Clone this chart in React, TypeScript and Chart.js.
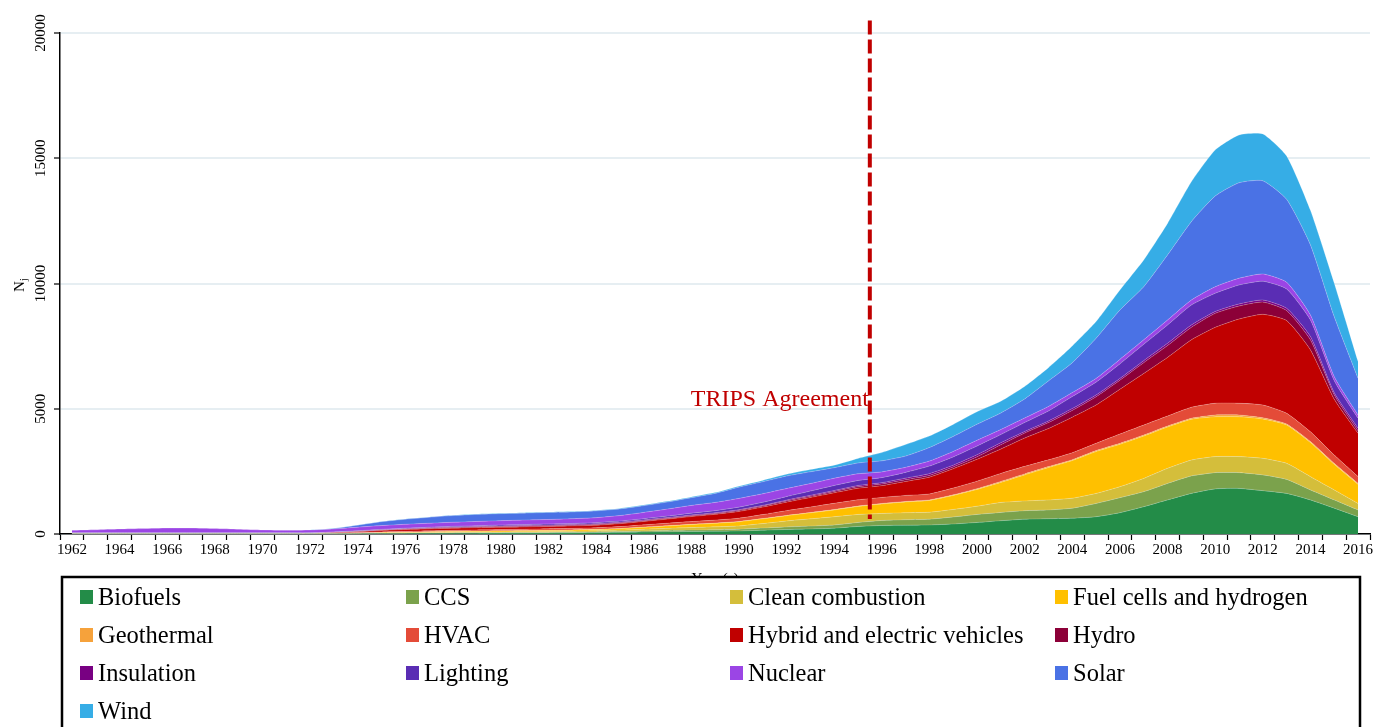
import React, { useEffect, useRef } from "react";
import { Chart, registerables } from "chart.js";

Chart.register(...registerables);

const years = [
  "1962","1963","1964","1965","1966","1967","1968","1969","1970","1971",
  "1972","1973","1974","1975","1976","1977","1978","1979","1980","1981",
  "1982","1983","1984","1985","1986","1987","1988","1989","1990","1991",
  "1992","1993","1994","1995","1996","1997","1998","1999","2000","2001",
  "2002","2003","2004","2005","2006","2007","2008","2009","2010","2011",
  "2012","2013","2014","2015","2016",
];

const yTickValues = [0, 5000, 10000, 15000, 20000];

const biofuels = [
  5,5,5,5,5,5,5,5,5,5,5,
  8,12,18,22,26,30,32,35,38,
  40,45,55,65,80,90,100,110,120,
  150,180,200,230,300,340,350,360,400,460,
  530,590,610,630,690,850,1090,1360,1620,1800,
  1820,1730,1620,1360,1030,690,
];
const ccs = [
  2,2,2,2,2,2,2,2,2,2,2,
  3,5,8,10,12,14,16,18,19,
  20,22,25,30,40,50,55,60,70,
  85,100,115,130,160,200,220,230,280,320,
  330,340,350,400,530,600,600,660,700,650,
  630,630,560,400,330,270,
];
const cleanCombustion = [
  3,3,3,3,3,3,3,3,3,3,3,
  5,8,12,15,18,22,25,28,32,
  40,45,50,60,70,85,100,115,130,
  180,240,290,330,320,280,280,280,300,330,
  400,390,400,400,400,440,530,600,630,640,
  640,660,640,530,400,260,
];
const fuelCells = [
  3,3,3,3,3,3,3,3,3,3,3,
  6,10,16,22,26,30,32,35,38,
  40,42,45,55,75,95,120,140,170,
  190,210,240,270,320,380,430,470,560,670,
  800,1040,1290,1500,1670,1690,1690,1650,1630,1590,
  1590,1570,1530,1360,1020,760,
];
const geothermal = [
  2,2,2,2,2,2,2,2,2,2,2,
  3,4,5,6,8,10,10,10,10,
  10,10,10,10,10,10,10,10,10,
  10,12,12,15,15,20,20,20,25,30,
  40,40,40,35,40,40,40,40,40,70,
  70,50,40,40,40,40,
];
const hvac = [
  5,5,5,5,5,5,5,5,5,5,5,
  10,16,24,30,36,42,48,52,55,
  60,62,65,75,90,100,110,120,130,
  160,190,220,250,250,240,240,240,270,300,
  320,300,270,280,290,370,400,400,440,470,
  470,510,430,390,330,270,
];
const hybridEV = [
  8,8,8,8,8,8,8,8,8,8,8,
  18,35,55,70,80,85,90,90,90,
  90,95,100,115,135,165,200,230,270,
  300,340,380,420,460,470,560,670,770,870,
  970,1130,1250,1420,1530,1790,2060,2340,2690,3030,
  3360,3620,3700,3270,2230,1730,
];
const hydro = [
  6,6,6,6,6,6,6,6,6,6,6,
  10,12,15,18,20,22,25,28,30,
  30,30,30,30,30,30,35,35,40,
  40,45,45,50,60,70,70,70,70,100,
  170,200,240,270,330,360,430,470,500,560,
  520,490,400,400,170,100,
];
const insulation = [
  6,6,6,6,6,6,6,6,6,6,6,
  10,12,15,18,20,22,24,26,28,
  30,30,30,30,30,30,30,30,30,
  30,35,40,40,50,50,60,70,70,80,
  80,60,60,70,70,70,80,90,90,70,
  80,80,90,130,90,100,
];
const lighting = [
  6,6,6,6,6,6,6,6,6,6,6,
  10,14,18,22,25,28,30,35,38,
  40,40,42,45,50,60,70,80,100,
  120,140,170,200,200,200,230,300,330,350,
  330,360,400,480,510,580,650,730,800,730,
  760,750,770,660,480,400,
];
const nuclear = [
  100,120,150,170,190,190,170,140,110,100,110,
  120,145,150,155,160,165,170,175,180,
  180,190,200,220,250,280,310,330,350,
  340,320,300,290,270,230,200,200,220,230,
  200,180,180,160,150,180,180,200,200,260,
  270,290,270,200,160,130,
];
const solar = [
  3,3,3,3,3,3,3,3,3,3,3,
  20,80,155,200,235,265,280,280,275,
  280,270,270,265,270,280,310,360,450,
  480,500,470,420,430,440,450,540,600,640,
  660,760,1020,1190,1600,1970,2120,2600,3130,3620,
  3810,3720,3310,2800,2390,1460,
];
const wind = [
  1,1,1,1,1,1,1,1,1,1,1,
  3,6,10,12,14,16,18,20,20,
  20,20,20,20,25,30,30,35,40,
  55,70,90,100,180,330,460,460,480,500,
  470,500,530,670,670,800,1070,1260,1590,1840,
  1910,1870,1730,1380,1340,670,
];

const seriesNames = [
  "Biofuels", "CCS", "Clean combustion", "Fuel cells and hydrogen",
  "Geothermal", "HVAC", "Hybrid and electric vehicles", "Hydro",
  "Insulation", "Lighting", "Nuclear", "Solar", "Wind",
];
const seriesValues = [
  biofuels, ccs, cleanCombustion, fuelCells, geothermal, hvac, hybridEV,
  hydro, insulation, lighting, nuclear, solar, wind,
];
const seriesColors = [
  "#238C48", "#7BA24C", "#D4BE3B", "#FFC000", "#F6A23B", "#E44B38", "#C00000",
  "#8C0038", "#780082", "#5A2DB4", "#9B45E5", "#4A72E5", "#36ADE6",
];

const eventYearIndex = 33; // boundary between 1995 and 1996
const eventLabel = "TRIPS Agreement";
const xTitle = "Year (s)";

const SERIF = '"Liberation Serif", "Times New Roman", serif';

const overlayPlugin = {
  id: "overlay",
  afterDraw(chart: any) {
    const ctx = chart.ctx as CanvasRenderingContext2D;
    const xs = chart.scales.x;
    const ys = chart.scales.y;
    const area = chart.chartArea;

    // y tick labels (rotated)
    ctx.save();
    ctx.fillStyle = "#000";
    ctx.font = `15px ${SERIF}`;
    for (const v of yTickValues) {
      const py = ys.getPixelForValue(v);
      ctx.save();
      ctx.translate(41, py);
      ctx.rotate(-Math.PI / 2);
      ctx.textAlign = "center";
      ctx.textBaseline = "middle";
      ctx.fillText(String(v), 0, 0);
      ctx.restore();
    }
    ctx.restore();

    // x tick labels (every second year)
    ctx.save();
    ctx.fillStyle = "#000";
    ctx.font = `15px ${SERIF}`;
    ctx.textAlign = "center";
    ctx.textBaseline = "alphabetic";
    years.forEach((yr, i) => {
      if (i % 2 !== 0) return;
      ctx.fillText(yr, xs.getPixelForValue(i), area.bottom + 20);
    });
    ctx.restore();

    // y title N_j
    ctx.save();
    ctx.fillStyle = "#000";
    ctx.translate(24, 285);
    ctx.rotate(-Math.PI / 2);
    ctx.textBaseline = "alphabetic";
    ctx.textAlign = "left";
    ctx.font = `15px ${SERIF}`;
    ctx.fillText("N", -7, 0);
    ctx.font = `10px ${SERIF}`;
    ctx.fillText("j", 4, 3);
    ctx.restore();

    // x title (partly hidden behind legend box)
    ctx.save();
    ctx.fillStyle = "#000";
    ctx.font = `15px ${SERIF}`;
    ctx.textAlign = "center";
    ctx.textBaseline = "alphabetic";
    ctx.fillText(xTitle, (area.left + area.right) / 2, area.bottom + 49);
    ctx.restore();

    // TRIPS dashed line
    const lx = (xs.getPixelForValue(eventYearIndex) + xs.getPixelForValue(eventYearIndex + 1)) / 2;
    ctx.save();
    ctx.strokeStyle = "#C00000";
    ctx.lineWidth = 4;
    ctx.setLineDash([14, 5]);
    ctx.beginPath();
    ctx.moveTo(lx, ys.getPixelForValue(20500));
    ctx.lineTo(lx, ys.getPixelForValue(600));
    ctx.stroke();
    ctx.restore();

    ctx.save();
    ctx.fillStyle = "#C00000";
    ctx.font = `24px ${SERIF}`;
    ctx.textAlign = "right";
    ctx.textBaseline = "alphabetic";
    ctx.fillText(eventLabel, lx - 1, ys.getPixelForValue(5100));
    ctx.restore();

    // legend box
    ctx.save();
    ctx.fillStyle = "#fff";
    ctx.fillRect(62, 577, 1298, 200);
    ctx.strokeStyle = "#000";
    ctx.lineWidth = 2.5;
    ctx.strokeRect(62, 577, 1298, 200);
    const colX = [98, 424, 748, 1073];
    const rowY = [597, 635, 673, 711];
    ctx.font = `24.5px ${SERIF}`;
    ctx.textAlign = "left";
    ctx.textBaseline = "alphabetic";
    seriesNames.forEach((name, i) => {
      const c = i % 4;
      const r = Math.floor(i / 4);
      const tx = colX[c];
      const cy = rowY[r];
      ctx.fillStyle = seriesColors[i];
      ctx.fillRect(tx - 18, cy - 7, 13, 14);
      ctx.fillStyle = "#000";
      ctx.fillText(name, tx, cy + 8);
    });
    ctx.restore();
  },
};

export default function App() {
  const canvasRef = useRef<HTMLCanvasElement | null>(null);

  useEffect(() => {
    const canvas = canvasRef.current;
    if (!canvas) return;
    const chart = new Chart(canvas, {
      type: "line",
      data: {
        labels: years,
        datasets: seriesNames.map((name, i) => ({
          label: name,
          data: seriesValues[i],
          backgroundColor: seriesColors[i],
          borderColor: "rgba(255,255,255,0.3)",
          borderWidth: 0.7,
          pointRadius: 0,
          pointHoverRadius: 0,
          tension: 0.18,
          fill: i === 0 ? "origin" : "-1",
        })),
      },
      options: {
        responsive: false,
        animation: false,
        devicePixelRatio: 1,
        layout: { padding: { left: 0, right: 4, top: 33, bottom: 173 } },
        plugins: {
          legend: { display: false },
          tooltip: { enabled: false },
        },
        scales: {
          x: {
            type: "category",
            offset: true,
            grid: {
              offset: true,
              drawOnChartArea: false,
              drawTicks: true,
              tickLength: 6,
              tickColor: "#000",
              tickWidth: 1.2,
            },
            border: { display: true, color: "#000", width: 1.5 },
            ticks: { display: false, autoSkip: false },
            afterFit: (s: any) => { s.height = 20; },
          },
          y: {
            stacked: true,
            min: 0,
            max: 20000,
            grid: {
              color: "#E6EEF2",
              lineWidth: 2,
              drawTicks: true,
              tickLength: 6,
              tickColor: "#000",
              tickWidth: 1.2,
            },
            border: { display: true, color: "#000", width: 1.5 },
            ticks: { display: false, stepSize: 5000 },
            afterFit: (s: any) => { s.width = 60; },
          },
        },
      },
      plugins: [overlayPlugin],
    });
    return () => chart.destroy();
  }, []);

  return (
    <div
      style={{
        position: "fixed",
        left: 0,
        top: 0,
        width: 1374,
        height: 727,
        overflow: "hidden",
        background: "#fff",
      }}
    >
      <canvas ref={canvasRef} width={1374} height={727} style={{ display: "block" }} />
    </div>
  );
}
